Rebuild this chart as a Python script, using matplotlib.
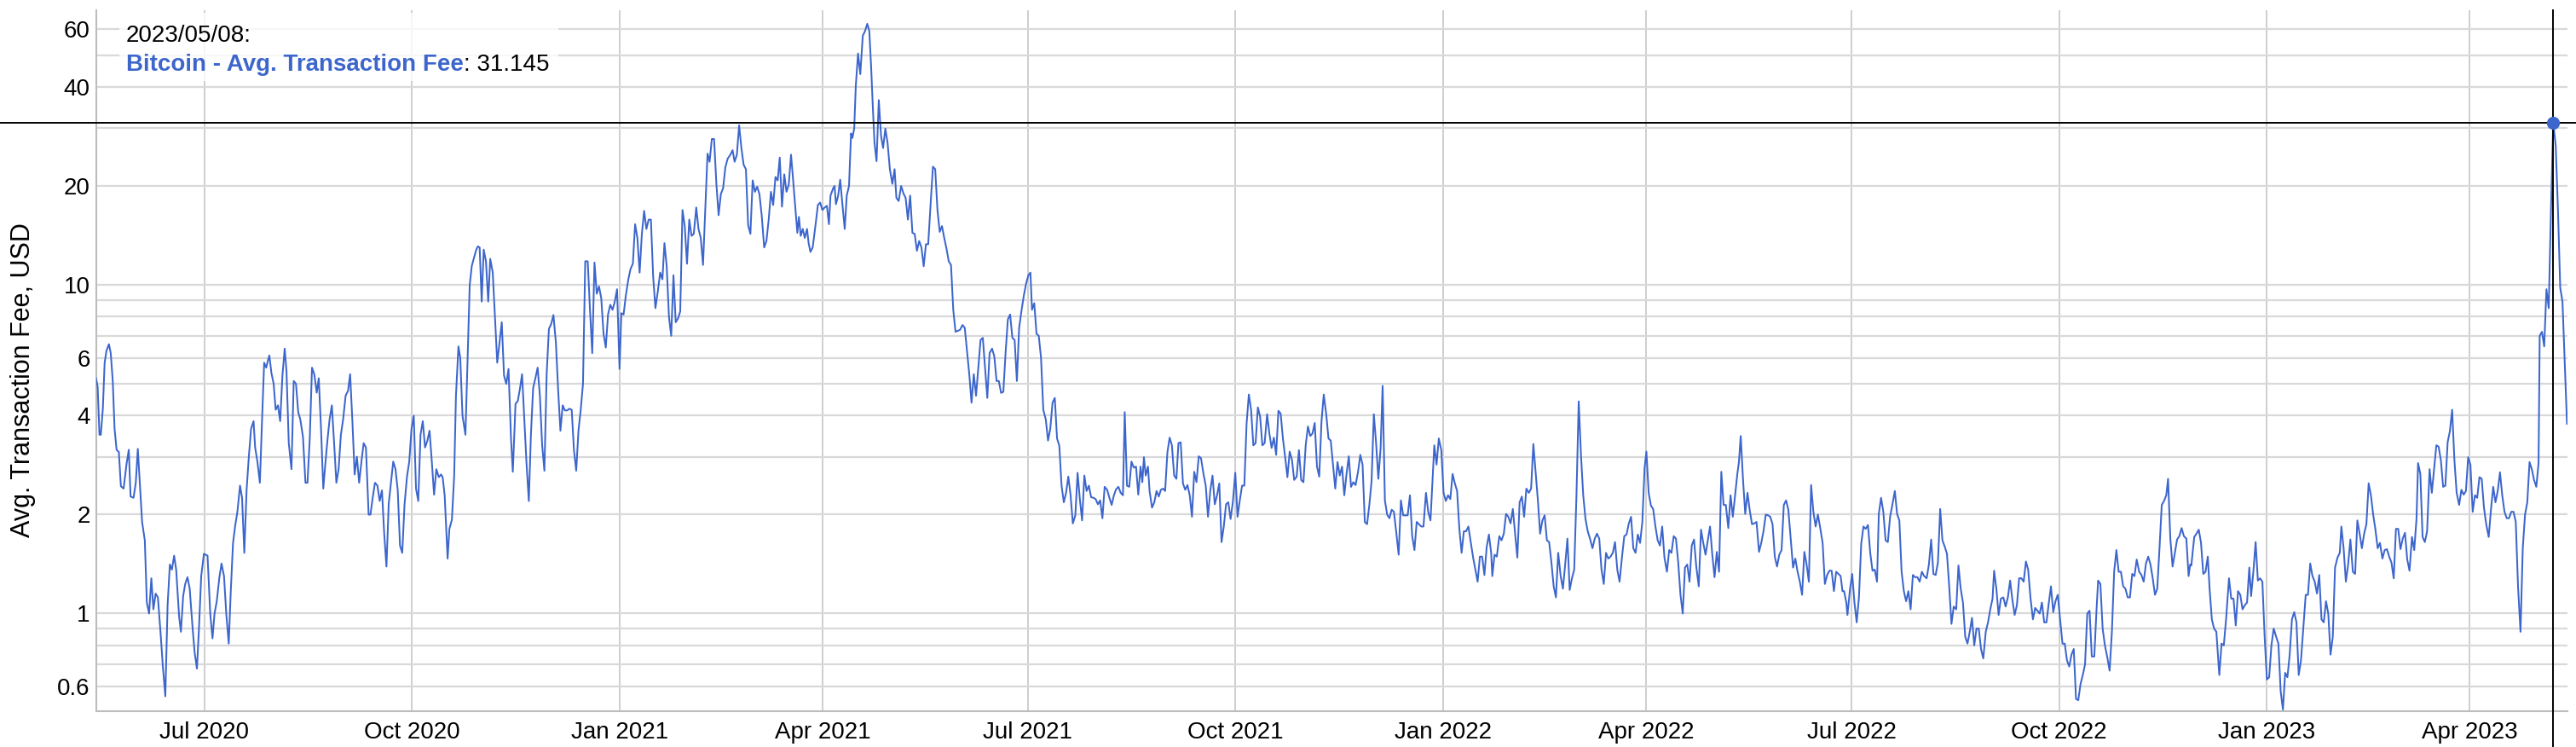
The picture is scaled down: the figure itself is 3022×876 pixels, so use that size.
import matplotlib
matplotlib.use("Agg")
import matplotlib.pyplot as plt
import matplotlib.dates as mdates
import matplotlib.transforms as mtransforms
from matplotlib.lines import Line2D
from matplotlib.patches import Rectangle
from matplotlib.ticker import FixedLocator, NullFormatter
import numpy as np
import pandas as pd

plt.rcParams['font.family'] = ['Liberation Sans', 'DejaVu Sans']

# Bitcoin average transaction fee (USD).
# Each entry: (days since 2020-05-14, fee)
start = pd.Timestamp('2020-05-14')

fee_may_oct_2020 = [
    (0.0, 5.2), (0.7, 4.9), (1.5, 3.5), (2.1, 3.5), (3.0, 4.2), (3.8, 5.8), (4.6, 6.3), (5.7, 6.6),
    (6.5, 6.2), (7.4, 5.1), (8.2, 3.65), (9.1, 3.15), (10.1, 3.1), (11.0, 2.44), (12.2, 2.4),
    (13.5, 2.85), (14.5, 3.15), (15.3, 2.27), (16.6, 2.25), (17.6, 2.5), (18.5, 3.17), (19.4, 2.5),
    (20.4, 1.9), (21.6, 1.67), (22.5, 1.08), (23.5, 1.0), (24.5, 1.28), (25.4, 1.03), (26.4, 1.15),
    (27.4, 1.12), (28.6, 0.87), (29.6, 0.69), (30.7, 0.56), (31.7, 1.06), (32.7, 1.41), (33.6, 1.36),
    (34.6, 1.5), (35.5, 1.36), (36.8, 0.98), (37.6, 0.88), (38.6, 1.13), (39.5, 1.23), (40.5, 1.29),
    (41.5, 1.19), (42.8, 0.9), (43.7, 0.76), (44.7, 0.68), (45.6, 0.9), (46.6, 1.3), (47.8, 1.52),
    (49.4, 1.5), (50.6, 1.0), (51.6, 0.84), (52.5, 1.0), (53.5, 1.09), (54.6, 1.28), (55.6, 1.42),
    (56.7, 1.3), (57.7, 1.0), (58.8, 0.81), (59.7, 1.17), (60.7, 1.64), (61.7, 1.86), (62.6, 2.03),
    (63.8, 2.45), (64.7, 2.25), (65.7, 1.53), (66.7, 2.37), (67.7, 3.0), (68.7, 3.65), (69.8, 3.85),
    (70.5, 3.2), (71.5, 2.9), (72.6, 2.5), (73.5, 3.78), (74.5, 5.8), (75.4, 5.6), (76.2, 5.9),
    (76.8, 6.1), (77.7, 5.4), (78.7, 5.0), (79.6, 4.17), (80.6, 4.3), (81.6, 3.85), (82.6, 5.3),
    (83.6, 6.4), (84.4, 5.45), (85.4, 3.3), (86.6, 2.75), (87.6, 5.1), (88.6, 5.0), (89.6, 4.1),
    (90.5, 3.9), (91.7, 3.45), (92.8, 2.5), (93.7, 2.5), (94.7, 3.4), (95.7, 5.6), (96.7, 5.35),
    (97.8, 4.7), (98.7, 5.2), (99.7, 3.65), (100.7, 2.4), (101.6, 2.85), (102.6, 3.4), (103.5, 3.9),
    (104.5, 4.3), (105.5, 3.3), (106.5, 2.5), (107.5, 2.75), (108.5, 3.5), (109.5, 3.9), (110.6, 4.6),
    (111.7, 4.77), (112.6, 5.35), (113.6, 3.85), (114.6, 2.65), (115.6, 3.0), (116.6, 2.5), (117.6, 2.9),
    (118.6, 3.3), (119.6, 3.2), (120.8, 2.0), (121.6, 2.0), (122.6, 2.25), (123.6, 2.5), (124.7, 2.45),
    (125.7, 2.2), (126.7, 2.37), (127.7, 1.75), (128.7, 1.39), (129.7, 2.16), (130.7, 2.5), (131.7, 2.9),
    (132.7, 2.75), (133.7, 2.37), (134.7, 1.61), (135.7, 1.53), (136.7, 2.14), (137.8, 2.61), (138.8, 2.9),
    (139.8, 3.65), (140.8, 4.0), (141.8, 2.4), (142.8, 2.2), (143.8, 3.5), (144.8, 3.85), (145.8, 3.2),
    (146.8, 3.35), (147.8, 3.6), (148.8, 2.9), (149.8, 2.3), (150.8, 2.75), (151.9, 2.6), (152.9, 2.65),
]

fee_oct_2020_mar_2021 = [
    (153.6, 2.6), (154.5, 2.29), (155.8, 1.47), (156.6, 1.81), (157.7, 1.93), (158.7, 2.61), (159.5, 4.6),
    (160.6, 6.5), (161.4, 6.0), (162.4, 4.0), (163.7, 3.5), (164.6, 5.8), (165.6, 10.0), (166.5, 11.4),
    (167.5, 12.1), (168.5, 12.8), (169.2, 13.1), (170.0, 13.0), (170.9, 8.9), (171.8, 12.8), (172.8, 11.8),
    (173.8, 8.9), (174.7, 12.0), (175.8, 10.9), (176.8, 7.9), (177.8, 5.8), (178.8, 6.66), (179.8, 7.7),
    (180.8, 5.3), (181.8, 5.0), (182.8, 5.55), (183.9, 3.41), (184.7, 2.7), (185.9, 4.35), (186.9, 4.43),
    (187.9, 4.85), (188.8, 5.35), (189.8, 3.9), (190.8, 2.84), (191.8, 2.2), (192.7, 3.47), (193.7, 4.85),
    (194.7, 5.2), (195.7, 5.6), (196.7, 4.6), (197.7, 3.25), (198.7, 2.72), (199.7, 5.35), (200.7, 7.35),
    (201.7, 7.6), (202.7, 8.1), (203.8, 6.66), (204.8, 4.77), (205.8, 3.6), (206.8, 4.3), (207.8, 4.15),
    (208.8, 4.15), (209.8, 4.2), (210.8, 4.17), (211.8, 3.14), (212.8, 2.72), (213.8, 3.6), (214.8, 4.17),
    (215.8, 5.0), (216.8, 11.8), (217.9, 11.8), (218.9, 8.4), (219.9, 6.2), (220.9, 11.7), (221.9, 9.4),
    (222.9, 9.9), (223.9, 9.1), (224.9, 7.12), (225.9, 6.45), (226.9, 8.13), (227.9, 8.7), (228.9, 8.4),
    (229.9, 8.9), (230.9, 9.7), (232.0, 5.55), (232.8, 8.2), (233.8, 8.13), (234.8, 9.3), (235.9, 10.4),
    (236.9, 11.2), (237.9, 11.6), (238.9, 15.3), (239.9, 13.9), (240.9, 10.9), (241.9, 14.3), (242.9, 16.8),
    (243.9, 14.8), (244.9, 15.8), (245.9, 15.8), (246.9, 10.6), (247.9, 8.5), (249.0, 9.6), (250.0, 10.9),
    (251.0, 10.4), (251.9, 13.4), (252.9, 11.4), (253.9, 8.0), (254.9, 7.0), (255.9, 10.7), (256.9, 7.7),
    (257.9, 7.9), (258.9, 8.3), (259.9, 16.9), (260.9, 15.1), (261.9, 11.6), (262.9, 15.8), (263.9, 14.1),
    (264.9, 14.3), (266.0, 17.2), (267.0, 14.8), (268.0, 13.9), (269.0, 11.5), (270.0, 16.9), (271.0, 25.1),
    (271.9, 23.7), (272.9, 27.8), (273.9, 27.8), (274.9, 20.4), (275.9, 16.3), (276.9, 18.9), (277.9, 19.7),
    (278.9, 22.8), (279.9, 24.2), (281.1, 24.9), (282.1, 25.7), (283.0, 23.7), (284.0, 24.9), (285.0, 30.6),
    (286.0, 26.1), (287.0, 23.2), (288.0, 22.5), (289.0, 15.2), (290.0, 14.3), (291.0, 20.8), (292.0, 19.2),
    (293.0, 19.9), (294.0, 18.9), (295.0, 16.3), (296.1, 13.0), (297.1, 13.6), (298.1, 15.8), (299.1, 19.2),
    (300.1, 17.5), (301.1, 21.3), (302.1, 20.8), (303.0, 24.4), (304.0, 17.3), (305.0, 21.7), (306.0, 19.2),
    (307.0, 20.2), (308.0, 24.9),
]

fee_mar_aug_2021 = [
    (308.8, 21.4), (309.8, 17.5), (310.8, 14.4), (311.5, 16.1), (312.3, 14.1), (313.2, 14.8), (314.1, 13.9),
    (315.1, 14.8), (315.8, 13.4), (316.6, 12.6), (317.6, 13.0), (318.9, 15.3), (319.9, 17.5), (320.9, 17.8),
    (321.9, 16.9), (322.9, 17.2), (323.9, 17.4), (324.8, 15.3), (325.5, 18.7), (326.7, 19.7), (327.3, 20.0),
    (327.9, 17.6), (328.9, 18.7), (329.8, 20.9), (330.8, 17.5), (331.8, 14.8), (332.7, 18.7), (333.7, 20.0),
    (334.6, 28.9), (335.2, 28.0), (336.0, 29.9), (336.7, 40.3), (337.7, 50.6), (338.7, 43.8), (339.8, 57.3),
    (340.8, 59.2), (341.8, 62.3), (342.7, 59.2), (343.5, 46.1), (344.3, 34.2), (345.0, 27.0), (345.9, 23.8),
    (346.9, 36.5), (347.9, 28.4), (348.8, 26.1), (349.8, 29.9), (350.8, 27.0), (351.8, 22.5), (352.9, 20.3),
    (353.9, 22.5), (354.7, 18.4), (355.7, 18.0), (356.8, 20.0), (357.8, 19.0), (358.8, 18.4), (359.8, 15.8),
    (360.8, 18.7), (361.8, 14.4), (362.8, 14.3), (363.8, 12.7), (364.8, 13.6), (365.8, 13.0), (366.8, 11.4),
    (367.8, 13.3), (368.8, 13.3), (369.9, 17.8), (370.9, 22.9), (371.9, 22.5), (372.9, 16.9), (373.9, 14.5),
    (374.9, 15.1), (375.9, 13.9), (376.9, 12.9), (377.9, 11.8), (378.9, 11.5), (379.9, 8.4), (380.9, 7.2),
    (381.9, 7.25), (382.9, 7.3), (384.0, 7.55), (385.0, 7.4), (386.0, 6.3), (387.0, 5.35), (388.0, 4.38),
    (389.0, 5.35), (390.0, 4.6), (391.0, 5.6), (392.0, 6.8), (393.0, 6.9), (394.0, 5.6), (395.0, 4.53),
    (396.0, 6.2), (397.1, 6.4), (398.1, 6.06), (399.1, 5.1), (400.1, 5.1), (401.1, 4.69), (402.1, 4.73),
    (403.1, 6.23), (404.1, 7.85), (405.1, 8.13), (406.1, 6.9), (407.1, 6.8), (408.1, 5.1), (409.1, 7.4),
    (410.2, 8.4), (411.2, 9.3), (412.2, 10.1), (413.2, 10.7), (414.1, 10.9), (414.8, 8.4), (415.8, 8.8),
    (416.8, 7.1), (417.8, 7.0), (418.8, 6.0), (419.8, 4.17), (420.9, 3.9), (421.9, 3.36), (422.9, 3.65),
    (423.9, 4.38), (424.9, 4.53), (425.9, 3.41), (426.9, 3.24), (427.9, 2.45), (428.9, 2.18), (429.9, 2.33),
    (430.9, 2.61), (431.9, 2.29), (432.9, 1.88), (434.0, 1.99), (435.0, 2.68), (436.0, 2.23), (437.0, 1.92),
    (438.0, 2.63), (439.0, 2.36), (440.0, 2.45), (441.0, 2.26), (442.0, 2.25), (443.0, 2.23), (444.0, 2.15),
    (445.0, 2.21), (446.0, 1.95), (447.0, 2.43), (448.1, 2.38), (449.1, 2.25), (450.1, 2.14), (451.1, 2.29),
    (452.1, 2.39), (453.1, 2.43), (454.1, 2.33), (455.1, 2.29), (455.9, 4.1), (456.9, 2.45), (457.9, 2.43),
    (458.9, 2.9), (459.9, 2.78), (460.9, 2.8), (461.9, 2.3), (462.9, 2.8),
]

fee_aug_2021_jan_2022 = [
    (463.7, 2.51), (464.4, 2.99), (465.2, 2.63), (466.2, 2.80), (466.9, 2.36), (468.0, 2.10), (469.0, 2.18),
    (470.0, 2.36), (471.0, 2.27), (471.9, 2.38), (472.9, 2.40), (473.8, 2.36), (474.8, 3.09), (475.8, 3.43),
    (476.8, 3.25), (477.8, 2.63), (478.8, 2.57), (479.7, 3.30), (480.7, 3.32), (481.7, 2.49), (482.7, 2.38),
    (483.7, 2.46), (484.7, 2.29), (485.7, 1.97), (486.7, 2.70), (487.7, 2.51), (488.7, 3.01), (489.7, 2.97),
    (490.8, 2.66), (491.8, 2.45), (492.8, 1.97), (493.8, 2.36), (494.8, 2.63), (495.8, 2.15), (496.8, 2.29),
    (497.8, 2.49), (498.8, 1.65), (499.8, 1.84), (500.8, 2.15), (501.8, 2.18), (502.8, 1.94), (503.8, 2.18),
    (504.9, 2.68), (505.9, 1.97), (506.9, 2.21), (507.9, 2.45), (508.9, 2.45), (509.9, 3.78), (510.9, 4.64),
    (511.9, 4.17), (512.9, 3.25), (513.9, 3.30), (514.9, 4.24), (515.9, 3.97), (516.9, 3.25), (517.9, 3.30),
    (519.0, 4.04), (520.0, 3.53), (521.0, 3.19), (522.0, 3.43), (523.0, 3.04), (524.0, 4.14), (525.0, 4.06),
    (526.0, 3.41), (527.0, 2.99), (528.0, 2.60), (529.0, 3.11), (530.0, 2.94), (531.0, 2.55), (532.1, 2.61),
    (533.1, 3.14), (534.1, 2.55), (535.1, 2.51), (536.1, 3.25), (537.1, 3.71), (538.1, 3.47), (539.1, 3.53),
    (540.1, 3.80), (541.1, 2.80), (542.1, 2.61), (543.1, 3.84), (544.1, 4.64), (545.2, 4.04), (546.2, 3.41),
    (547.2, 3.36), (548.2, 2.84), (549.2, 2.40), (550.2, 2.89), (551.2, 2.63), (552.2, 2.80), (553.2, 2.29),
    (554.2, 2.66), (555.2, 3.01), (556.2, 2.43), (557.2, 2.51), (558.2, 2.46), (559.3, 2.70), (560.3, 3.04),
    (561.3, 2.84), (562.3, 1.90), (563.3, 1.87), (564.3, 2.14), (565.3, 2.53), (566.3, 4.04), (567.3, 3.30),
    (568.3, 2.57), (569.3, 3.19), (570.2, 4.93), (571.2, 2.21), (572.2, 2.00), (573.2, 1.95), (574.2, 2.07),
    (575.2, 2.04), (576.3, 1.75), (577.3, 1.51), (578.3, 2.21), (579.3, 1.99), (580.3, 1.99), (581.3, 1.99),
    (582.3, 2.29), (583.3, 1.72), (584.3, 1.56), (585.3, 1.90), (586.3, 1.87), (587.3, 1.84), (588.3, 1.84),
    (589.4, 2.33), (590.4, 2.04), (591.4, 1.92), (592.4, 2.60), (593.1, 3.25), (594.1, 2.84), (595.1, 3.41),
    (596.2, 3.14), (597.2, 2.33), (598.2, 2.20), (599.2, 2.29), (600.2, 2.23), (601.2, 2.66), (602.2, 2.49),
    (603.2, 2.36), (604.2, 1.81), (605.2, 1.53), (606.2, 1.78), (607.2, 1.78), (608.2, 1.84), (609.3, 1.64),
    (610.3, 1.48), (611.3, 1.36), (612.3, 1.25), (613.3, 1.49), (614.3, 1.49), (615.3, 1.31), (616.3, 1.59),
    (617.3, 1.74), (618.3, 1.53),
]

fee_jan_jun_2022 = [
    (618.8, 1.30), (619.8, 1.51), (620.8, 1.49), (621.9, 1.72), (622.9, 1.67), (623.9, 1.75), (624.9, 2.01),
    (625.9, 1.97), (626.9, 1.88), (627.9, 2.08), (628.9, 1.75), (629.9, 1.48), (630.9, 2.18), (631.9, 2.27),
    (632.9, 1.97), (633.9, 2.40), (635.0, 2.33), (636.0, 2.40), (637.0, 3.28), (638.0, 2.70), (639.0, 2.21),
    (640.0, 1.75), (641.0, 1.92), (642.0, 1.99), (643.0, 1.67), (644.0, 1.65), (645.0, 1.43), (646.0, 1.21),
    (647.0, 1.12), (648.0, 1.53), (649.1, 1.30), (650.1, 1.19), (651.1, 1.41), (652.1, 1.69), (653.1, 1.18),
    (654.1, 1.28), (655.1, 1.36), (656.1, 2.29), (657.1, 4.42), (658.1, 3.04), (659.1, 2.29), (660.1, 1.94),
    (661.1, 1.78), (662.1, 1.69), (663.2, 1.58), (664.2, 1.69), (665.2, 1.75), (666.2, 1.69), (667.2, 1.36),
    (668.2, 1.23), (669.2, 1.53), (670.2, 1.47), (671.2, 1.49), (672.2, 1.53), (673.2, 1.65), (674.2, 1.36),
    (675.2, 1.25), (676.3, 1.49), (677.3, 1.72), (678.3, 1.74), (679.3, 1.88), (680.3, 1.97), (681.3, 1.58),
    (682.3, 1.53), (683.3, 1.74), (684.3, 1.64), (685.3, 1.90), (686.3, 2.78), (687.1, 3.11), (688.1, 2.33),
    (689.1, 2.13), (690.1, 2.08), (691.1, 1.84), (692.1, 1.67), (693.1, 1.61), (694.1, 1.84), (695.1, 1.48),
    (696.2, 1.34), (697.2, 1.56), (698.2, 1.53), (699.2, 1.72), (700.2, 1.69), (701.2, 1.43), (702.2, 1.14),
    (703.2, 1.00), (704.2, 1.38), (705.2, 1.41), (706.2, 1.25), (707.2, 1.61), (708.2, 1.68), (709.2, 1.39),
    (710.3, 1.21), (711.3, 1.80), (712.3, 1.64), (713.3, 1.51), (714.3, 1.67), (715.3, 1.84), (716.3, 1.51),
    (717.3, 1.29), (718.3, 1.54), (719.3, 1.34), (720.3, 2.70), (721.3, 2.14), (722.3, 2.14), (723.4, 1.82),
    (724.4, 2.29), (725.4, 1.97), (726.4, 2.29), (727.4, 2.66), (728.1, 2.89), (728.9, 3.47), (729.9, 2.57),
    (730.9, 2.01), (731.9, 2.33), (732.9, 2.06), (733.9, 1.87), (734.9, 1.88), (735.9, 1.90), (737.0, 1.54),
    (738.0, 1.64), (739.0, 1.78), (740.0, 2.00), (741.0, 1.99), (742.0, 1.97), (743.0, 1.87), (744.0, 1.49),
    (745.0, 1.39), (746.0, 1.51), (747.0, 1.56), (748.0, 2.14), (749.0, 2.21), (750.0, 2.07), (751.1, 1.67),
    (752.1, 1.38), (753.1, 1.47), (754.1, 1.34), (755.1, 1.25), (756.1, 1.14), (757.1, 1.54), (758.1, 1.41),
    (759.1, 1.25), (760.1, 2.46), (761.1, 2.04), (762.1, 1.84), (763.1, 2.00), (764.2, 1.81), (765.2, 1.64),
    (766.2, 1.23), (767.2, 1.31), (768.2, 1.35), (769.2, 1.35), (770.2, 1.17), (771.2, 1.34), (772.2, 1.32),
    (773.2, 1.30),
]

fee_jun_nov_2022 = [
    (774.0, 1.17), (774.7, 1.17), (775.7, 1.08), (776.2, 0.99), (777.3, 1.18), (778.3, 1.32), (779.3, 1.08),
    (780.3, 0.94), (781.3, 1.12), (782.3, 1.63), (783.3, 1.84), (784.3, 1.81), (785.3, 1.86), (786.3, 1.53),
    (787.3, 1.35), (788.3, 1.36), (789.3, 1.25), (790.1, 2.01), (791.1, 2.25), (792.1, 2.04), (793.1, 1.67),
    (794.1, 1.65), (795.1, 1.97), (796.1, 2.14), (797.2, 2.36), (798.2, 2.01), (799.2, 1.92), (800.2, 1.34),
    (801.2, 1.17), (802.2, 1.09), (803.2, 1.17), (804.2, 1.03), (805.2, 1.31), (806.2, 1.29), (807.2, 1.29),
    (808.2, 1.25), (809.2, 1.34), (810.2, 1.30), (811.3, 1.28), (812.3, 1.41), (813.3, 1.68), (814.3, 1.32),
    (815.3, 1.31), (816.3, 1.43), (817.3, 2.08), (818.3, 1.67), (819.3, 1.60), (820.3, 1.52), (821.3, 1.21),
    (822.3, 0.93), (823.3, 1.05), (824.4, 1.03), (825.4, 1.40), (826.4, 1.19), (827.4, 1.08), (828.4, 0.85),
    (829.4, 0.81), (830.4, 0.88), (831.4, 0.97), (832.4, 0.80), (833.4, 0.90), (834.4, 0.90), (835.4, 0.78),
    (836.4, 0.73), (837.5, 0.88), (838.5, 0.94), (839.5, 1.03), (840.5, 1.11), (841.2, 1.35), (842.2, 1.19),
    (843.2, 0.99), (844.2, 1.11), (845.3, 1.12), (846.3, 1.05), (847.3, 1.12), (848.3, 1.26), (849.3, 1.10),
    (850.3, 0.99), (851.3, 1.06), (852.3, 1.28), (853.3, 1.28), (854.3, 1.25), (855.3, 1.44), (856.3, 1.36),
    (857.3, 1.12), (858.4, 0.96), (859.4, 1.04), (860.4, 1.02), (861.4, 1.00), (862.4, 1.08), (863.4, 0.94),
    (864.4, 0.94), (865.4, 1.07), (866.4, 1.21), (867.4, 1.01), (868.4, 1.09), (869.4, 1.14), (870.4, 0.97),
    (871.5, 0.81), (872.5, 0.81), (873.5, 0.72), (874.5, 0.69), (875.5, 0.75), (876.5, 0.78), (877.5, 0.55),
    (878.5, 0.545), (879.5, 0.61), (880.5, 0.65), (881.5, 0.70), (882.5, 1.00), (883.5, 1.02), (884.5, 0.74),
    (885.6, 0.74), (886.6, 1.03), (887.3, 1.26), (888.3, 1.23), (889.3, 0.90), (890.3, 0.80), (891.3, 0.74),
    (892.4, 0.67), (893.4, 0.88), (894.4, 1.34), (895.4, 1.56), (896.4, 1.34), (897.4, 1.34), (898.4, 1.21),
    (899.4, 1.19), (900.4, 1.12), (901.4, 1.12), (902.4, 1.32), (903.4, 1.30), (904.4, 1.46), (905.5, 1.34),
    (906.5, 1.31), (907.5, 1.25), (908.5, 1.42), (909.5, 1.49), (910.5, 1.41), (911.5, 1.28), (912.5, 1.14),
    (913.5, 1.19), (914.5, 1.58), (915.5, 2.14), (916.5, 2.20), (917.5, 2.29), (918.3, 2.57), (919.3, 1.69),
    (920.3, 1.39), (921.3, 1.53), (922.3, 1.68), (923.3, 1.72), (924.3, 1.82), (925.3, 1.72), (926.4, 1.69),
    (927.4, 1.30), (928.1, 1.41),
]

fee_nov_2022_may_2023 = [
    (928.6, 1.40), (929.9, 1.71), (930.9, 1.75), (931.9, 1.80), (932.9, 1.64), (933.9, 1.32), (934.9, 1.34),
    (935.9, 1.49), (936.7, 1.19), (937.7, 0.96), (938.7, 0.90), (939.7, 0.88), (941.0, 0.65), (942.0, 0.81),
    (943.0, 0.80), (944.0, 0.96), (945.3, 1.28), (946.3, 1.11), (947.3, 1.11), (948.3, 0.92), (949.3, 1.17),
    (950.3, 1.14), (951.3, 1.03), (952.3, 1.06), (953.3, 1.08), (954.3, 1.38), (955.1, 1.13), (956.1, 1.34),
    (957.1, 1.65), (958.1, 1.26), (959.1, 1.28), (960.1, 1.25), (961.1, 0.85), (962.1, 0.63), (963.1, 0.64),
    (964.1, 0.80), (965.1, 0.90), (966.2, 0.85), (967.2, 0.81), (968.2, 0.58), (969.2, 0.51), (970.2, 0.66),
    (971.2, 0.64), (972.2, 0.75), (973.2, 0.96), (974.2, 1.01), (975.2, 0.94), (976.2, 0.65), (977.2, 0.72),
    (978.2, 0.90), (979.3, 1.14), (980.3, 1.14), (981.3, 1.42), (982.3, 1.30), (983.3, 1.25), (984.3, 1.15),
    (985.3, 1.31), (986.3, 0.96), (987.3, 0.94), (988.3, 1.09), (989.3, 1.00), (990.3, 0.75), (991.3, 0.85),
    (992.3, 1.38), (993.4, 1.48), (994.4, 1.53), (995.1, 1.84), (996.1, 1.58), (997.1, 1.25), (998.1, 1.41),
    (999.1, 1.68), (1000.2, 1.34), (1001.2, 1.32), (1002.2, 1.92), (1003.2, 1.75), (1004.2, 1.58),
    (1005.2, 1.75), (1006.2, 1.87), (1007.2, 2.49), (1008.2, 2.29), (1009.2, 2.00), (1010.2, 1.80),
    (1011.2, 1.58), (1012.2, 1.64), (1013.3, 1.47), (1014.3, 1.56), (1015.3, 1.57), (1016.3, 1.49),
    (1017.3, 1.43), (1018.3, 1.28), (1019.3, 1.81), (1020.3, 1.81), (1021.3, 1.57), (1022.3, 1.69),
    (1023.3, 1.76), (1024.3, 1.46), (1025.3, 1.35), (1026.4, 1.71), (1027.4, 1.56), (1028.4, 1.94),
    (1029.1, 2.87), (1030.1, 2.66), (1031.1, 1.71), (1032.1, 1.65), (1033.1, 1.78), (1034.2, 2.75),
    (1035.2, 2.33), (1036.2, 2.75), (1037.2, 3.25), (1038.2, 3.22), (1039.2, 2.93), (1040.2, 2.43),
    (1041.2, 2.45), (1042.2, 3.32), (1043.2, 3.59), (1044.2, 4.17), (1045.2, 2.93), (1046.2, 2.33),
    (1047.3, 2.14), (1048.3, 2.38), (1049.3, 2.30), (1050.3, 2.36), (1051.3, 2.99), (1052.3, 2.84),
    (1053.3, 2.04), (1054.3, 2.29), (1055.3, 2.25), (1056.3, 2.60), (1057.3, 2.57), (1058.3, 2.10),
    (1059.3, 1.87), (1060.4, 1.71), (1061.4, 2.07), (1062.4, 2.43), (1063.4, 2.18), (1064.4, 2.36),
    (1065.4, 2.69), (1066.4, 2.29), (1067.4, 2.04), (1068.4, 1.95), (1069.4, 1.95), (1070.4, 2.04),
    (1071.4, 2.04), (1072.4, 1.90), (1073.4, 1.21), (1074.5, 0.88), (1075.5, 1.58), (1076.5, 2.00),
    (1077.5, 2.18), (1078.5, 2.89), (1079.5, 2.75), (1080.5, 2.55), (1081.5, 2.43), (1082.5, 2.87),
    (1083.0, 7.0), (1084.0, 7.2), (1085.0, 6.5), (1086.0, 9.7), (1087.0, 8.5), (1088.0, 16.9),
    (1089.0, 31.145), (1090.1, 26.5), (1091.1, 16.9), (1092.1, 9.8), (1093.1, 8.9), (1094.1, 5.8),
    (1095.1, 3.78),
]

hover_date = pd.Timestamp('2023-05-08')
hover_value = 31.145

major_ticks = [0.6, 1, 2, 4, 6, 10, 20, 40, 60]
major_labels = ['0.6', '1', '2', '4', '6', '10', '20', '40', '60']
minor_ticks = [0.7, 0.8, 0.9, 3, 5, 7, 8, 9, 30, 50]

pairs = (fee_may_oct_2020 + fee_oct_2020_mar_2021 + fee_mar_aug_2021 + fee_aug_2021_jan_2022
         + fee_jan_jun_2022 + fee_jun_nov_2022 + fee_nov_2022_may_2023)
day = np.array([p[0] for p in pairs])
fee = np.array([p[1] for p in pairs])
dates = start + pd.to_timedelta(day, unit='D')

W, H = 3022, 876
blue = '#3d66cc'

fig = plt.figure(figsize=(W / 100, H / 100), dpi=100)
ax = fig.add_axes([112.7 / W, 1 - 833.5 / H, (3011.7 - 112.7) / W, (833.5 - 12.3) / H])

ax.plot(dates, fee, color=blue, lw=1.45, zorder=3)

ax.set_yscale('log')
ax.set_ylim(0.506, 68.4)
ax.set_xlim(start, start + pd.Timedelta(days=1095.2))

ax.yaxis.set_major_locator(FixedLocator(major_ticks))
ax.set_yticklabels(major_labels)
ax.yaxis.set_minor_locator(FixedLocator(minor_ticks))
ax.yaxis.set_minor_formatter(NullFormatter())

ax.xaxis.set_major_locator(mdates.MonthLocator(bymonth=[1, 4, 7, 10]))
ax.xaxis.set_major_formatter(mdates.DateFormatter('%b %Y'))

ax.grid(which='both', axis='y', color='#d9d9d9', lw=1.6, zorder=0)
ax.grid(which='major', axis='x', color='#c6c6c6', lw=1.2, zorder=0)
ax.set_axisbelow(True)

ax.tick_params(axis='both', which='both', length=0, labelsize=20, colors='black')
ax.tick_params(axis='y', pad=5)
ax.tick_params(axis='x', pad=9)

for side in ['top', 'right']:
    ax.spines[side].set_visible(False)
for side in ['left', 'bottom']:
    ax.spines[side].set_color('#bdbdbd')
    ax.spines[side].set_linewidth(1.5)

ax.set_ylabel('Avg. Transaction Fee, USD', fontsize=22)
ax.yaxis.set_label_coords(-0.0245, 0.472)

# crosshair at the hovered point
hx = mdates.date2num(hover_date)
trans_h = mtransforms.blended_transform_factory(fig.transFigure, ax.transData)
trans_v = mtransforms.blended_transform_factory(ax.transData, fig.transFigure)
fig.add_artist(Line2D([0, 1], [hover_value, hover_value], transform=trans_h,
                      color='black', lw=1.4, zorder=5))
fig.add_artist(Line2D([hx, hx], [0, 1 - 12.3 / H], transform=trans_v,
                      color='black', lw=1.4, zorder=5))
fig.add_artist(Line2D([hx], [hover_value], transform=ax.transData, marker='o',
                      ms=10, color=blue, lw=0, zorder=6))

# legend box with the hovered value
fig.add_artist(Rectangle((140 / W, 1 - 95 / H), 515 / W, 80 / H, transform=fig.transFigure,
                         facecolor='white', edgecolor='none', alpha=0.8, zorder=1))
fig.text(148 / W, 1 - 49 / H, '2023/05/08:', fontsize=20, va='baseline', zorder=4)
name = fig.text(148 / W, 1 - 82.7 / H, 'Bitcoin - Avg. Transaction Fee', fontsize=20,
                fontweight='bold', color=blue, va='baseline', zorder=4)
fig.canvas.draw()
bb = name.get_window_extent()
fig.text(bb.x1 / W, 1 - 82.7 / H, ': 31.145', fontsize=20, va='baseline', zorder=4)

fig.savefig('out.png', dpi=100)
